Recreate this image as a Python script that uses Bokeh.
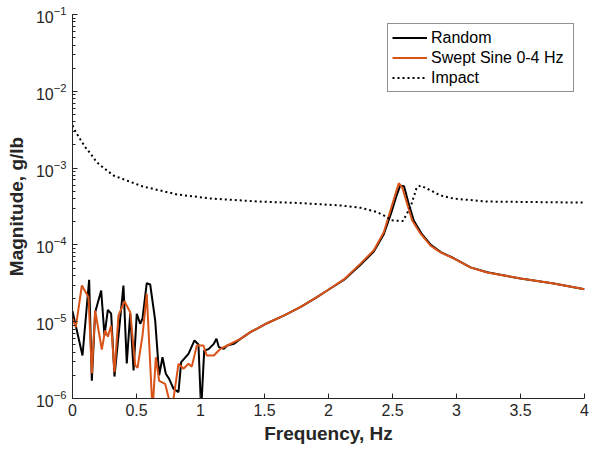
from bokeh.plotting import figure
from bokeh.models import Range1d, FixedTicker, Legend, LegendItem
from bokeh.embed import file_html
from bokeh.resources import INLINE

# ---- data ----
freq_random = [0.000, 0.078, 0.130, 0.151, 0.177, 0.224, 0.250, 0.276, 0.302, 0.328,
               0.398, 0.424, 0.451, 0.477, 0.502, 0.529, 0.547, 0.580, 0.607, 0.646,
               0.677, 0.703, 0.729, 0.755, 0.789, 0.828, 0.849, 0.906, 0.953, 0.984,
               1.005, 1.029, 1.063, 1.104, 1.125, 1.143, 1.182, 1.209, 1.260, 1.3125,
               1.39, 1.52, 1.65, 1.78, 1.91, 1.99, 2.12, 2.25, 2.354, 2.432,
               2.49, 2.53, 2.56, 2.59, 2.625, 2.665, 2.73, 2.80, 2.88, 2.98,
               3.11, 3.24, 3.50, 3.76, 4.00]
mag_random = [1.37e-5, 3.63e-6, 3.52e-5, 1.71e-6, 1.33e-5, 2.55e-5, 6.6e-6, 1.43e-5, 1.27e-5, 1.93e-6,
              2.96e-5, 2.86e-6, 1.29e-5, 2.32e-6, 1.27e-5, 9.4e-6, 1.1e-5, 3.17e-5, 3.05e-5, 1.04e-5,
              2.0e-6, 3.45e-6, 2.1e-6, 1.8e-6, 1.34e-6, 1.21e-6, 2.97e-6, 3.82e-6, 5.7e-6, 5.05e-6,
              7e-7, 4.2e-6, 4.4e-6, 5.15e-6, 6.0e-6, 4.67e-6, 4.44e-6, 4.9e-6, 5.15e-6, 5.98e-6,
              7.3e-6, 9.55e-6, 1.2e-5, 1.55e-5, 2.09e-5, 2.55e-5, 3.5e-5, 5.5e-5, 8.2e-5, 1.38e-4,
              2.6e-4, 4.3e-4, 5.9e-4, 5.8e-4, 3.5e-4, 2.1e-4, 1.38e-4, 1.0e-4, 8.0e-5, 6.7e-5,
              5.1e-5, 4.4e-5, 3.65e-5, 3.14e-5, 2.65e-5]

freq_swept = [0.000, 0.026, 0.073, 0.125, 0.151, 0.177, 0.229, 0.255, 0.276, 0.302,
              0.328, 0.359, 0.406, 0.451, 0.490, 0.508, 0.547, 0.580, 0.625, 0.651,
              0.677, 0.724, 0.776, 0.828, 0.867, 0.906, 0.932, 0.971, 1.023, 1.049,
              1.104, 1.156, 1.209, 1.3125, 1.39, 1.52, 1.65, 1.78, 1.91, 1.99,
              2.12, 2.25, 2.354, 2.432, 2.484, 2.523, 2.549, 2.576, 2.615, 2.654,
              2.719, 2.797, 2.875, 2.98, 3.11, 3.24, 3.50, 3.76, 4.00]
mag_swept = [1.1e-5, 8.5e-6, 2.96e-5, 2.08e-5, 2.12e-6, 1.4e-5, 4.35e-6, 7.7e-6, 6.4e-6, 8.9e-6,
             2.2e-6, 1.2e-5, 1.85e-5, 1.33e-5, 2.7e-6, 2.5e-6, 6.6e-6, 2.3e-5, 7e-7, 3.45e-6,
             1.7e-6, 1.55e-6, 7e-7, 2.83e-6, 2.44e-6, 2.83e-6, 2.6e-6, 4.9e-6, 4.9e-6, 3.63e-6,
             3.63e-6, 4.44e-6, 4.9e-6, 5.98e-6, 7.3e-6, 9.55e-6, 1.2e-5, 1.55e-5, 2.09e-5, 2.55e-5,
             3.55e-5, 5.7e-5, 8.5e-5, 1.46e-4, 2.8e-4, 4.6e-4, 6.35e-4, 5.6e-4, 3.4e-4, 2.08e-4,
             1.4e-4, 9.8e-5, 8.0e-5, 6.65e-5, 5.08e-5, 4.37e-5, 3.65e-5, 3.14e-5, 2.65e-5]

freq_impact = [0.0, 0.023, 0.0625, 0.10, 0.14, 0.19, 0.245, 0.32, 0.55, 0.82,
               1.08, 1.45, 1.77, 2.10, 2.25, 2.38, 2.46, 2.49, 2.58, 2.64,
               2.69, 2.72, 2.80, 2.875, 2.98, 3.24, 4.0]
mag_impact = [3.59e-3, 3.0e-3, 2.34e-3, 1.87e-3, 1.55e-3, 1.19e-3, 1.0e-3, 8.0e-4, 5.76e-4, 4.53e-4,
              4.02e-4, 3.67e-4, 3.51e-4, 3.26e-4, 3.04e-4, 2.67e-4, 2.29e-4, 2.09e-4, 2.04e-4, 3.09e-4,
              5.63e-4, 5.93e-4, 5.1e-4, 4.4e-4, 4.0e-4, 3.67e-4, 3.55e-4]

x_ticks = [0, 0.5, 1, 1.5, 2, 2.5, 3, 3.5, 4]
series_labels = ["Random", "Swept Sine 0-4 Hz", "Impact"]

FONT = "Liberation Sans"
AX = "#262626"

p = figure(width=593, height=451, output_backend="svg", toolbar_location=None,
           y_axis_type="log", x_range=Range1d(0, 4), y_range=Range1d(1e-6, 1e-1),
           min_border_left=72, min_border_right=9, min_border_top=14, min_border_bottom=53,
           frame_width=512, frame_height=384)
p.outline_line_color = None
p.xgrid.visible = False
p.ygrid.visible = False

r1 = p.line(freq_random, mag_random, line_color="black", line_width=2)
r2 = p.line(freq_swept, mag_swept, line_color="#D95319", line_width=2)
r3 = p.line(freq_impact, mag_impact, line_color="black", line_width=2, line_dash="2 3")

p.xaxis.ticker = FixedTicker(ticks=x_ticks)
p.xaxis.major_label_overrides = {0: "0", 0.5: "0.5", 1: "1", 1.5: "1.5", 2: "2",
                                 2.5: "2.5", 3: "3", 3.5: "3.5", 4: "4"}
for ax in (p.xaxis[0], p.yaxis[0]):
    ax.axis_line_color = AX
    ax.major_tick_line_color = AX
    ax.minor_tick_line_color = AX
    ax.major_tick_in = 5
    ax.major_tick_out = 0
    ax.minor_tick_in = 3
    ax.minor_tick_out = 0
    ax.major_label_text_font = FONT
    ax.major_label_text_font_size = "16px"
    ax.major_label_text_color = AX
    ax.axis_label_text_font = FONT
    ax.axis_label_text_font_size = "19px"
    ax.axis_label_text_font_style = "bold"
    ax.axis_label_text_color = AX
p.xaxis.minor_tick_line_color = None
p.xaxis.axis_label = "Frequency, Hz"
p.yaxis.axis_label = "Magnitude, g/lb"
p.xaxis.major_label_standoff = 5
p.yaxis.major_label_standoff = 6
p.xaxis.axis_label_standoff = 4
p.yaxis.axis_label_standoff = 6

legend = Legend(items=[LegendItem(label=series_labels[0], renderers=[r1]),
                       LegendItem(label=series_labels[1], renderers=[r2]),
                       LegendItem(label=series_labels[2], renderers=[r3])],
                location=(315, 306))
legend.label_text_font = FONT
legend.label_text_font_size = "16px"
legend.label_text_color = "black"
legend.glyph_width = 35
legend.glyph_height = 19
legend.label_height = 19
legend.label_width = 138
legend.label_standoff = 4
legend.padding = 4
legend.spacing = 1
legend.margin = 0
legend.border_line_color = AX
legend.border_line_width = 1
legend.background_fill_color = "white"
legend.background_fill_alpha = 1
p.add_layout(legend)

open("out.html", "w").write(file_html(p, INLINE))
